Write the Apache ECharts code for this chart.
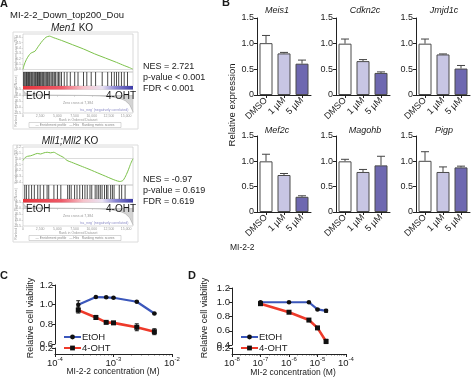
<!DOCTYPE html>
<html>
<head>
<meta charset="utf-8">
<script src="https://cdn.jsdelivr.net/npm/echarts@6.0.0/dist/echarts.min.js"></script>
<style>html,body{margin:0;padding:0;background:#fff;}#chart{width:474px;height:382px;}</style>
</head>
<body>
<div id="chart"></div>
<script>
// ================= DATA =================
// Panel A – GSEA (x = position in the ranked list, % ; y = running enrichment score)
const gseaTitle = 'MI-2-2_Down_top200_Dou';
const rankTickLabels = ['0', '2,500', '5,000', '7,500', '10,000', '12,500', '15,000'];
const men1EsX = [0, 1, 3, 5, 7, 9, 11, 13, 15, 18, 21, 24, 28, 35, 45, 55, 65, 75, 85, 92, 97, 100];
const men1EsY = [0, 0.08, 0.18, 0.25, 0.30, 0.32, 0.34, 0.40, 0.46, 0.54, 0.60, 0.62, 0.59, 0.54, 0.46, 0.38, 0.29, 0.21, 0.13, 0.07, 0.03, 0];
const men1Hits = [0.5, 1.5, 2.5, 3.2, 4, 5, 5.8, 6.5, 7.5, 8.2, 9, 10, 10.8, 11.5, 12.5, 13.2, 14, 15, 15.7, 16.5,
  17.5, 18.3, 19, 20, 21, 21.8, 22.5, 23.5, 24.3, 25.5, 26.5, 27.3, 28.5, 29.5, 31, 32.3, 33.5, 35,
  37.5, 40, 43, 47, 50, 55, 58, 62, 66, 72, 77, 80.5, 83, 85, 87, 89.5, 92, 95];
const mllEsX = [0, 2, 4, 7, 10, 13, 16, 19, 22, 25, 28, 31, 34, 37, 40, 44, 48, 52, 56, 60, 65, 70, 75, 80, 84, 88, 91, 94, 96, 98, 100];
const mllEsY = [-0.03, 0.02, 0.04, 0.05, 0.07, 0.09, 0.08, 0.10, 0.11, 0.10, 0.11, 0.08, 0.05, 0.02, -0.03, -0.06, -0.09, -0.12, -0.15, -0.18, -0.22, -0.26, -0.30, -0.34, -0.37, -0.39, -0.37, -0.27, -0.18, -0.08, 0];
const mllHits = [1.6, 3.1, 5.3, 7.8, 10.3, 13.4, 15.6, 18.8, 21.9, 23.4, 28.1, 31.3, 34.4, 40.6, 42.2, 43.8, 46.9,
  49.1, 51.6, 54.1, 56.3, 58.4, 60.9, 62.5, 65.6, 67.2, 68.8, 70.3, 71.9, 74.1, 75.9, 77.2, 79.7, 81.3, 82.8, 87.5, 89.7, 92.8];
const metricX = [0, 2, 5, 10, 20, 40, 55, 70, 80, 88, 93, 97, 100];
const metricY = [0.45, 0.2, 0.1, 0.06, 0.03, 0.01, 0, -0.05, -0.12, -0.25, -0.45, -0.8, -1.4];
const men1Stats = ['NES = 2.721', 'p-value < 0.001', 'FDR < 0.001'];
const mllStats = ['NES = -0.97', 'p-value = 0.619', 'FDR = 0.619'];
const phenotypes = ['EtOH', '4-OHT'];

// Panel B – relative expression
const doses = ['DMSO', '1 µM', '5 µM'];
const genes = ['Meis1', 'Cdkn2c', 'Jmjd1c', 'Mef2c', 'Magohb', 'Pigp'];
const meis1 = [1.01, 0.81, 0.61],   meis1Err = [0.15, 0.02, 0.07];
const cdkn2c = [1.00, 0.66, 0.43],  cdkn2cErr = [0.09, 0.03, 0.02];
const jmjd1c = [1.00, 0.79, 0.515], jmjd1cErr = [0.09, 0.01, 0.06];
const mef2c = [1.00, 0.73, 0.30],   mef2cErr = [0.14, 0.03, 0.02];
const magohb = [1.00, 0.79, 0.92],  magohbErr = [0.04, 0.05, 0.18];
const pigp = [1.01, 0.79, 0.88],    pigpErr = [0.18, 0.10, 0.025];

// Panel C – MI-2-2
const concC = [2.5e-4, 5e-4, 7.5e-4, 1e-3, 2.5e-3, 5e-3];
const etohC = [1.00, 1.077, 1.075, 1.07, 1.03, 0.91];
const etohCErr = [0.04, 0.005, 0.005, 0.005, 0.005, 0.005];
const ohtC = [0.945, 0.87, 0.82, 0.815, 0.77, 0.725];
const ohtCErr = [0.03, 0.02, 0.01, 0.01, 0.035, 0.03];
// Panel D – MI-2
const concD = [1e-7, 1e-6, 5e-6, 1e-5, 2e-5];
const etohD = [1.00, 1.00, 1.00, 0.90, 0.88];
const etohDErr = [0.01, 0.005, 0.005, 0.01, 0.02];
const ohtD = [0.98, 0.86, 0.75, 0.64, 0.45];
const ohtDErr = [0.015, 0.005, 0.02, 0.005, 0.03];

// ================= STYLE / LAYOUT =================
const FONT = '"Liberation Sans", Arial, Helvetica, sans-serif';
const TXT = '#1a1a1a';
const doseColors = ['#ffffff', '#c8c6e4', '#6e68b0'];
const grid = [], xAxis = [], yAxis = [], series = [], graphic = [];

function text(x, y, str, opt) {
  graphic.push(Object.assign({
    type: 'text', x: x, y: y, silent: true, z: 10,
    style: Object.assign({ text: str, font: (opt && opt.font) || ('10px ' + FONT), fill: TXT,
      textAlign: 'left', textVerticalAlign: 'middle' }, (opt && opt.style) || {})
  }, (opt && opt.el) || {}));
}
function italicTitle(x, y, it, rest, size) {
  graphic.push({ type: 'text', x: x, y: y, silent: true, z: 10,
    style: { text: '{i|' + it + '}' + (rest ? '{n|' + rest + '}' : ''), textAlign: 'center', textVerticalAlign: 'middle',
      rich: { i: { fontStyle: 'italic', fontSize: size, fontFamily: FONT, fill: TXT, color: TXT },
              n: { fontSize: size, fontFamily: FONT, fill: TXT, color: TXT } } } });
}

// ---------- Panel A ----------
const tiny = { fontSize: 3.5, color: '#9a9a9a', fontFamily: FONT };
function buildGsea(dy, esX, esY, esMin, esMax, hits, stats) {
  const L = 23, W = 110;
  graphic.push({ type: 'rect', silent: true, z: 0, shape: { x: 13, y: 32 + dy, width: 125, height: 97 },
    style: { fill: 'none', stroke: '#dcdcdc', lineWidth: 1 } });
  // running enrichment score
  const gi = grid.length;
  grid.push({ left: L, top: 34 + dy, width: W, height: 38, show: true, borderColor: '#cfcfcf', borderWidth: 0.8, backgroundColor: 'transparent' });
  xAxis.push({ gridIndex: gi, type: 'value', min: 0, max: 100, show: false });
  yAxis.push({ gridIndex: gi, type: 'value', min: esMin, max: esMax, splitNumber: 6,
    axisLine: { show: false }, axisTick: { show: true, length: 1.5, lineStyle: { color: '#bbb', width: 0.5 } },
    axisLabel: Object.assign({ margin: 2, formatter: v => v.toFixed(1) }, tiny), splitLine: { show: false } });
  series.push({ type: 'line', xAxisIndex: gi, yAxisIndex: gi, data: esX.map((x, i) => [x, esY[i]]),
    showSymbol: false, smooth: 0.25, lineStyle: { color: '#7cc24a', width: 1 }, silent: true,
    markLine: { silent: true, symbol: 'none', label: { show: false }, lineStyle: { color: '#c4c4c4', width: 0.6, type: 'solid' }, data: [{ yAxis: 0 }] } });
  // hits barcode
  const bi = grid.length;
  grid.push({ left: L, top: 72 + dy, width: W, height: 14, show: true, borderColor: '#cfcfcf', borderWidth: 0.8, backgroundColor: 'transparent' });
  xAxis.push({ gridIndex: bi, type: 'value', min: 0, max: 100, show: false });
  yAxis.push({ gridIndex: bi, type: 'value', min: 0, max: 1, show: false });
  series.push({ type: 'custom', xAxisIndex: bi, yAxisIndex: bi, silent: true, data: hits.map(h => [h, 1]), encode: { x: 0, y: 1 },
    renderItem: (p, api) => { const a = api.coord([api.value(0), 0]), b = api.coord([api.value(0), 1]);
      return { type: 'line', shape: { x1: a[0], y1: a[1], x2: b[0], y2: b[1] }, style: { stroke: '#111', lineWidth: 0.75 } }; } });
  // ranked list heat bar
  graphic.push({ type: 'rect', silent: true, z: 5, shape: { x: L, y: 86 + dy, width: W, height: 3.5 },
    style: { fill: new echarts.graphic.LinearGradient(0, 0, 1, 0, [
      { offset: 0, color: '#e5333b' }, { offset: 0.35, color: '#ee5a68' }, { offset: 0.55, color: '#f6c3cb' },
      { offset: 0.72, color: '#e9e2f2' }, { offset: 0.84, color: '#8a86d2' }, { offset: 1, color: '#3b39a6' }]) } });
  // ranked list metric
  const mi = grid.length;
  grid.push({ left: L, top: 89.5 + dy, width: W, height: 23.5, show: true, borderColor: '#cfcfcf', borderWidth: 0.8, backgroundColor: 'transparent' });
  xAxis.push({ gridIndex: mi, type: 'value', min: 0, max: 100, interval: 15.625,
    axisLine: { show: false }, axisTick: { show: true, length: 1.5, lineStyle: { color: '#bbb', width: 0.5 } },
    axisLabel: Object.assign({ margin: 1.5, formatter: v => rankTickLabels[Math.round(v / 15.625)] || '' }, tiny), splitLine: { show: false } });
  yAxis.push({ gridIndex: mi, type: 'value', min: -1.5, max: 0.5, interval: 0.5,
    axisLine: { show: false }, axisTick: { show: true, length: 1.5, lineStyle: { color: '#bbb', width: 0.5 } },
    axisLabel: Object.assign({ margin: 2, formatter: v => v.toFixed(1) }, tiny), splitLine: { show: false } });
  series.push({ type: 'line', xAxisIndex: mi, yAxisIndex: mi, silent: true, data: metricX.map((x, i) => [x, metricY[i]]),
    showSymbol: false, lineStyle: { color: '#9d9d9d', width: 0.5 }, areaStyle: { color: '#c2c2c2' },
    markLine: { silent: true, symbol: 'none', label: { show: false }, lineStyle: { color: '#b5b5b5', width: 0.6, type: 'solid' }, data: [{ yAxis: 0 }] } });
  // tiny GSEA annotations
  text(16, 53 + dy, 'Enrichment score (ES)', { font: '3.5px ' + FONT, style: { fill: '#999', textAlign: 'center' }, el: { rotation: Math.PI / 2 } });
  text(16, 101 + dy, 'Ranked list metric (Signal2Noise)', { font: '3.5px ' + FONT, style: { fill: '#999', textAlign: 'center' }, el: { rotation: Math.PI / 2 } });
  text(78, 103 + dy, 'Zero cross at 7,384', { font: '3.5px ' + FONT, style: { fill: '#999', textAlign: 'center' } });
  text(104, 110 + dy, "'na_neg' (negatively correlated)", { font: '3.5px ' + FONT, style: { fill: '#8d8dc8', textAlign: 'center' } });
  text(78, 120 + dy, 'Rank in Ordered Dataset', { font: '3.5px ' + FONT, style: { fill: '#999', textAlign: 'center' } });
  graphic.push({ type: 'rect', silent: true, z: 5, shape: { x: 29, y: 122.5 + dy, width: 92, height: 5 }, style: { fill: 'none', stroke: '#b0b0b0', lineWidth: 0.5 } });
  text(75, 125 + dy, '— Enrichment profile   — Hits   Ranking metric scores', { font: '3.3px ' + FONT, style: { fill: '#888', textAlign: 'center' } });
  // phenotype labels
  text(26, 96 + dy, phenotypes[0], { font: '10px ' + FONT });
  text(136, 96 + dy, phenotypes[1], { font: '10px ' + FONT, style: { textAlign: 'right' } });
  // statistics
  stats.forEach((s, i) => text(143, 67 + dy + i * 10.8, s, { font: '9px ' + FONT }));
}
text(0, 4, 'A', { font: 'bold 11px ' + FONT });
text(67, 15, gseaTitle, { font: '9.5px ' + FONT, style: { textAlign: 'center' } });
italicTitle(72, 28, 'Men1', ' KO', 10);
italicTitle(70, 141, 'Mll1;Mll2', ' KO', 10);
buildGsea(0, men1EsX, men1EsY, -0.05, 0.66, men1Hits, men1Stats);
buildGsea(113, mllEsX, mllEsY, -0.45, 0.2, mllHits, mllStats);

// ---------- Panel B ----------
text(222, 3, 'B', { font: 'bold 11px ' + FONT });
text(232, 105, 'Relative expression', { font: '9.5px ' + FONT, style: { textAlign: 'center' }, el: { rotation: Math.PI / 2 } });
const bValues = [meis1, cdkn2c, jmjd1c, mef2c, magohb, pigp];
const bErrs = [meis1Err, cdkn2cErr, jmjd1cErr, mef2cErr, magohbErr, pigpErr];
const bLefts = [257, 336, 416], bTops = [18, 136], bTitleX = [277, 365, 444], bTitleY = [10, 130];
genes.forEach((g, k) => {
  const col = k % 3, row = Math.floor(k / 3);
  const gi = grid.length;
  grid.push({ left: bLefts[col], top: bTops[row], width: 54, height: 77 - row });
  xAxis.push({ gridIndex: gi, type: 'category', data: doses,
    axisLine: { lineStyle: { color: '#222', width: 1 } }, axisTick: { show: true, alignWithLabel: true, length: 3, lineStyle: { color: '#222' } },
    axisLabel: { rotate: 45, fontSize: 9, fontFamily: FONT, color: TXT, margin: 4, interval: 0 } });
  yAxis.push({ gridIndex: gi, type: 'value', min: 0, max: 1.5, interval: 0.5,
    axisLine: { show: true, lineStyle: { color: '#222', width: 1 } }, axisTick: { show: true, length: 3, lineStyle: { color: '#222' } },
    axisLabel: { fontSize: 9, fontFamily: FONT, color: TXT, margin: 3, formatter: v => v === 0 ? '0' : v.toFixed(1) }, splitLine: { show: false } });
  series.push({ type: 'bar', xAxisIndex: gi, yAxisIndex: gi, barWidth: 13, silent: true,
    data: bValues[k].map((v, i) => ({ value: v, itemStyle: { color: doseColors[i] } })),
    itemStyle: { borderColor: '#4a4a4a', borderWidth: 1 } });
  series.push({ type: 'custom', xAxisIndex: gi, yAxisIndex: gi, silent: true, z: 1,
    data: bValues[k].map((v, i) => [i, v, bErrs[k][i]]), encode: { x: 0, y: 1 },
    renderItem: (p, api) => {
      const a = api.coord([api.value(0), api.value(1)]), b = api.coord([api.value(0), api.value(1) + api.value(2)]);
      return { type: 'group', children: [
        { type: 'line', shape: { x1: a[0], y1: a[1], x2: b[0], y2: b[1] }, style: { stroke: '#444', lineWidth: 1 } },
        { type: 'line', shape: { x1: b[0] - 4, y1: b[1], x2: b[0] + 4, y2: b[1] }, style: { stroke: '#444', lineWidth: 1 } }] };
    } });
  italicTitle(bTitleX[col], bTitleY[row], g, '', 9);
});
text(230, 248, 'MI-2-2', { font: '8.5px ' + FONT });

// ---------- Panels C & D ----------
const supRich = { b: { fontSize: 9.5, fontFamily: FONT, color: TXT, lineHeight: 12, verticalAlign: 'bottom' },
                  s: { fontSize: 6, fontFamily: FONT, color: TXT, lineHeight: 12, verticalAlign: 'top' } };
const supFmt = v => '{b|10}{s|' + Math.round(Math.log10(v)) + '}';
function errSeries(xi, yi, xs, ys, es) {
  return { type: 'custom', xAxisIndex: xi, yAxisIndex: yi, silent: true, z: 4,
    data: xs.map((x, i) => [x, ys[i], es[i]]), encode: { x: 0, y: 1 },
    renderItem: (p, api) => {
      const x = api.value(0), y = api.value(1), e = api.value(2);
      const a = api.coord([x, y - e]), b = api.coord([x, y + e]);
      return { type: 'group', children: [
        { type: 'line', shape: { x1: a[0], y1: a[1], x2: b[0], y2: b[1] }, style: { stroke: '#111', lineWidth: 1 } },
        { type: 'line', shape: { x1: a[0] - 2, y1: a[1], x2: a[0] + 2, y2: a[1] }, style: { stroke: '#111', lineWidth: 1 } },
        { type: 'line', shape: { x1: b[0] - 2, y1: b[1], x2: b[0] + 2, y2: b[1] }, style: { stroke: '#111', lineWidth: 1 } }] };
    } };
}
function buildViability(left, width, top, bottomSeg, xmin, xmax, ymin, conc, et, etE, oh, ohE) {
  const ui = grid.length;
  grid.push({ left: left, top: top, width: width, height: 344 - top + (bottomSeg || 0) });
  xAxis.push({ gridIndex: ui, type: 'log', logBase: 10, min: xmin, max: xmax, show: false });
  yAxis.push({ gridIndex: ui, type: 'value', min: ymin, max: 1.2, interval: 0.2,
    axisLine: { show: true, lineStyle: { color: '#222', width: 1 } }, axisTick: { show: true, length: 3, lineStyle: { color: '#222' } },
    axisLabel: { fontSize: 9.5, fontFamily: FONT, color: TXT, margin: 2, formatter: v => v.toFixed(1) }, splitLine: { show: false } });
  const li = grid.length;
  grid.push({ left: left, top: 348, width: width, height: 6 });
  xAxis.push({ gridIndex: li, type: 'log', logBase: 10, min: xmin, max: xmax,
    axisLine: { show: true, lineStyle: { color: '#222', width: 1 } }, axisTick: { show: true, length: 3, lineStyle: { color: '#222' } },
    minorTick: { show: true, splitNumber: 9, length: 1.5, lineStyle: { color: '#222', width: 0.6 } },
    axisLabel: { formatter: supFmt, rich: supRich, margin: 2 }, splitLine: { show: false } });
  yAxis.push({ gridIndex: li, type: 'value', min: 0, max: 0.2, interval: 0.2,
    axisLine: { show: true, lineStyle: { color: '#222', width: 1 } }, axisTick: { show: true, length: 3, lineStyle: { color: '#222' } },
    axisLabel: { fontSize: 9.5, fontFamily: FONT, color: TXT, margin: 2, formatter: v => v === 0 ? '0' : v.toFixed(1) }, splitLine: { show: false } });
  series.push({ name: 'EtOH', type: 'line', xAxisIndex: ui, yAxisIndex: ui, data: conc.map((c, i) => [c, et[i]]),
    symbol: 'circle', symbolSize: 4.5, lineStyle: { color: '#3b57bb', width: 2.2 }, itemStyle: { color: '#111' }, z: 3, silent: true });
  series.push({ name: '4-OHT', type: 'line', xAxisIndex: ui, yAxisIndex: ui, data: conc.map((c, i) => [c, oh[i]]),
    symbol: 'rect', symbolSize: 5, lineStyle: { color: '#ee3a2a', width: 2.6 }, itemStyle: { color: '#111' }, z: 3, silent: true });
  series.push(errSeries(ui, ui, conc, et, etE));
  series.push(errSeries(ui, ui, conc, oh, ohE));
}
text(0, 276, 'C', { font: 'bold 11px ' + FONT });
text(188, 276, 'D', { font: 'bold 11px ' + FONT });
buildViability(55, 117, 285, 0, 1e-4, 1e-2, 0.6, concC, etohC, etohCErr, ohtC, ohtCErr);
buildViability(232, 114, 288, 1, 1e-8, 1e-4, 0.4, concD, etohD, etohDErr, ohtD, ohtDErr);
text(31, 318, 'Relative cell viability', { font: '9px ' + FONT, style: { textAlign: 'center' }, el: { rotation: Math.PI / 2 } });
text(205, 318, 'Relative cell viability', { font: '9px ' + FONT, style: { textAlign: 'center' }, el: { rotation: Math.PI / 2 } });
text(113, 372, 'MI-2-2 concentration (M)', { font: '8.5px ' + FONT, style: { textAlign: 'center' } });
text(293, 373, 'MI-2 concentration (M)', { font: '8.5px ' + FONT, style: { textAlign: 'center' } });

const legendBase = { orient: 'vertical', top: 327, itemWidth: 17, itemHeight: 6, itemGap: 1, selectedMode: false,
  textStyle: { fontSize: 9.5, fontFamily: FONT, color: TXT, padding: [0, 0, 0, -4] }, data: ['EtOH', '4-OHT'] };

const chart = echarts.init(document.getElementById('chart'), null, { renderer: 'canvas', width: 474, height: 382 });
chart.setOption({
  backgroundColor: '#ffffff',
  animation: false,
  textStyle: { fontFamily: FONT },
  grid: grid, xAxis: xAxis, yAxis: yAxis, series: series,
  legend: [Object.assign({ left: 58 }, legendBase), Object.assign({ left: 235 }, legendBase)],
  graphic: { elements: graphic }
});
</script>
</body>
</html>
